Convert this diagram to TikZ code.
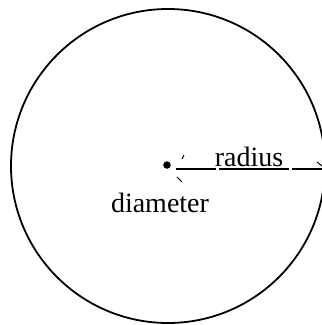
\documentclass[tikz,border=0pt]{standalone}
\usepackage{fontspec}
\setmainfont{Liberation Serif}
\begin{document}
\begin{tikzpicture}[x=1pt,y=1pt,
  outline/.style={line width=1.8pt},
  radline/.style={line width=1.2pt, dash pattern=on 40pt off 3pt on 70pt off 3pt},
  tick/.style={line width=1pt},
  lbl/.style={font=\fontsize{28}{32}\selectfont, inner sep=0pt, anchor=base}]
\useasboundingbox (0,0) rectangle (322,325);
\clip (0,0) rectangle (322,325);
\coordinate (c) at (168,159);
\draw[outline] (c) circle[radius=157];
\node[circle, fill=black, inner sep=0pt, minimum size=7.5pt] (dot) at (167,160) {};
\coordinate (rs) at (176,156);
\coordinate (re) at (322,156);
\draw[radline] (rs) -- (re);
\draw[tick] (182,166) -- (184,170);
\draw[tick] (177,148) -- (182,143);
\draw[tick] (317,163) -- (322,159);
\node[lbl] (radius) at (249,158) {radius};
\node[lbl] (diameter) at (160,113) {diameter};
\end{tikzpicture}
\end{document}
